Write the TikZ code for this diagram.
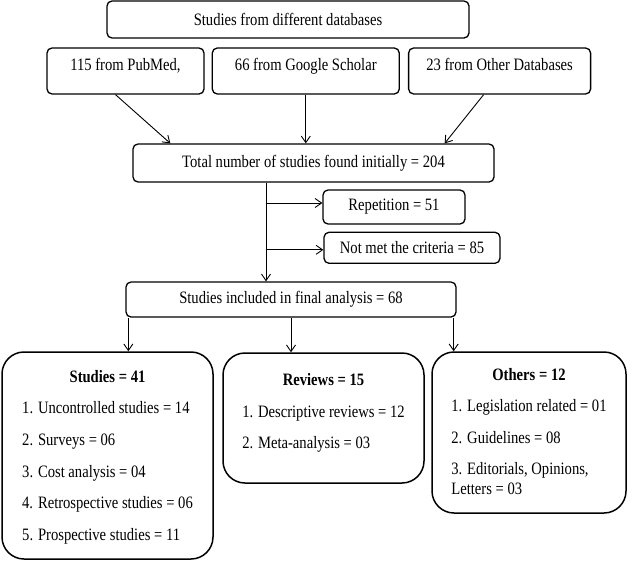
\documentclass[tikz,border=0pt]{standalone}
\usepackage{fontspec}
\setmainfont{Liberation Serif}[FakeStretch=0.84]
\usetikzlibrary{arrows.meta,positioning}

\begin{document}
\begin{tikzpicture}[
  x=1pt,y=-1pt,
  >={Straight Barb[length=6.5pt,width=9pt]},
  font=\fontsize{17.4}{19.4}\selectfont,
  box/.style={draw,line width=1.3pt,rounded corners=5pt,inner sep=0pt},
  dbbox/.style={box,minimum height=46pt,text height=9pt,text depth=10.8pt},
  group/.style={draw,line width=1.5pt,rounded corners=22pt,inner sep=0pt},
  link/.style={->,line width=0.9pt}
]
  \useasboundingbox (0,0) rectangle (640,560);

  % sources
  \node[box,minimum width=362pt,minimum height=37pt] (src) at (288,19.5)
    {Studies from different databases};
  \node[dbbox,minimum width=157pt] (pubmed) at (125.5,71) {115 from PubMed,};
  \node[dbbox,minimum width=187pt,right=7pt of pubmed] (scholar) {66 from Google Scholar};
  \node[dbbox,minimum width=182pt,right=8pt of scholar] (otherdb) {23 from Other Databases};

  % screening
  \node[box,minimum width=361pt,minimum height=38pt] (total) at (313.5,163)
    {Total number of studies found initially = 204};
  \node[box,minimum width=142pt,minimum height=34pt] (rep) at (394,207)
    {Repetition = 51};
  \node[box,minimum width=176pt,minimum height=31pt,below=7pt of rep.south west,
    anchor=north west,xshift=1pt] (notmet) {Not met the criteria = 85};
  \node[box,minimum width=330pt,minimum height=35pt] (final) at (291,299.5)
    {Studies included in final analysis = 68};

  % groups
  \node[group,minimum width=211pt,minimum height=207pt] (studies) at (107.5,455.5)
    {\begin{tabular}{@{}l@{}}
      \multicolumn{1}{@{}c@{}}{\bfseries Studies = 41}\\[12.2pt]
      1. Uncontrolled studies = 14\\[12.2pt]
      2. Surveys = 06\\[12.2pt]
      3. Cost analysis = 04\\[12.2pt]
      4. Retrospective studies = 06\\[12.2pt]
      5. Prospective studies = 11\\[-4pt]
    \end{tabular}};
  \node[group,minimum width=201pt,minimum height=130pt] (reviews) at (323.5,418)
    {\begin{tabular}{@{}l@{}}
      \multicolumn{1}{@{}c@{}}{\bfseries Reviews = 15}\\[12pt]
      1. Descriptive reviews = 12\\[12pt]
      2. Meta-analysis = 03\\[9pt]
    \end{tabular}};
  \node[group,minimum width=194pt,minimum height=161pt] (others) at (529,432.5)
    {\begin{tabular}{@{}l@{}}
      \multicolumn{1}{@{}c@{}}{\bfseries Others = 12}\\[12pt]
      1. Legislation related = 01\\[12pt]
      2. Guidelines = 08\\[12pt]
      3. Editorials, Opinions,\\
      Letters = 03\\[-2pt]
    \end{tabular}};

  % connectors
  \draw[link] ([xshift=-10pt]pubmed.south) -- ([xshift=38pt]total.north west);
  \draw[link] (scholar.south) -- (scholar.south |- total.north);
  \draw[link] ([xshift=-16pt]otherdb.south) -- ([xshift=-50pt]total.north east);

  \coordinate (trunk) at ([xshift=-47.5pt]total.south);
  \draw[link] (trunk) -- (trunk |- final.north);
  \draw[link] ([yshift=4pt]trunk |- rep.west) -- ([yshift=4pt]rep.west);
  \draw[link] ([yshift=-2pt]trunk |- notmet.west) -- ([yshift=-2pt]notmet.west);

  \coordinate (left) at ([xshift=3pt]final.south west);
  \coordinate (right) at ([xshift=-3pt]final.south east);
  \draw[link] (left) -- (left |- studies.north);
  \draw[link] (final.south) -- (final.south |- reviews.north);
  \draw[link] (right) -- (right |- others.north);
\end{tikzpicture}
\end{document}
